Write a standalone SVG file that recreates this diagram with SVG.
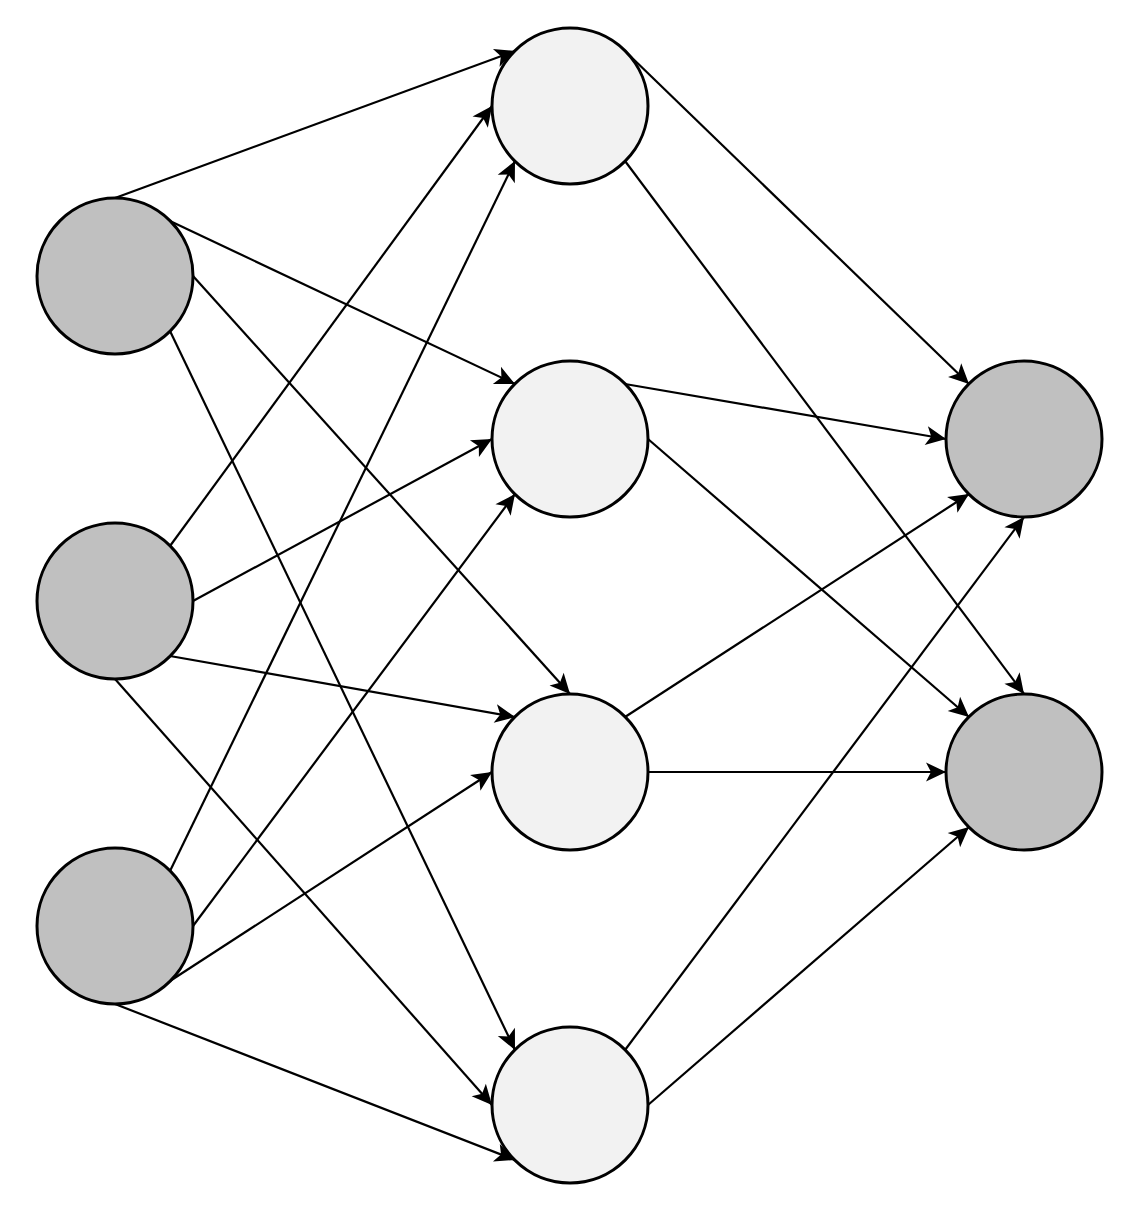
<svg xmlns="http://www.w3.org/2000/svg" width="1139" height="1214" viewBox="0 0 1139 1214">
<style>
.in{fill:#c0c0c0;stroke:#000;stroke-width:3}
.hid{fill:#f2f2f2;stroke:#000;stroke-width:3}
.out{fill:#c0c0c0;stroke:#000;stroke-width:3}
#connectors line{stroke:#000;stroke-width:2.2;fill:none;marker-end:url(#arrow)}
</style>
<defs>
<marker id="arrow" viewBox="-21 -10 22 20" markerWidth="22" markerHeight="20" refX="0" refY="0" orient="auto" markerUnits="userSpaceOnUse" overflow="visible">
<path d="M0,0 L-20,-9.5 L-15,0 L-20,9.5 Z" fill="#000"/>
</marker>
</defs>
<rect width="1139" height="1214" fill="#fff"/>
<g id="connectors">
<line x1="115" y1="198" x2="515" y2="51"/>
<line x1="170" y1="221" x2="515" y2="384"/>
<line x1="193" y1="276" x2="570" y2="694"/>
<line x1="170" y1="331" x2="515" y2="1050"/>
<line x1="170" y1="546" x2="492" y2="106"/>
<line x1="193" y1="601" x2="492" y2="439"/>
<line x1="170" y1="656" x2="515" y2="717"/>
<line x1="115" y1="679" x2="492" y2="1105"/>
<line x1="170" y1="871" x2="515" y2="161"/>
<line x1="193" y1="926" x2="515" y2="494"/>
<line x1="170" y1="981" x2="492" y2="772"/>
<line x1="115" y1="1004" x2="515" y2="1160"/>
<line x1="625" y1="51" x2="969" y2="384"/>
<line x1="625" y1="161" x2="1024" y2="694"/>
<line x1="625" y1="384" x2="946" y2="439"/>
<line x1="648" y1="439" x2="969" y2="717"/>
<line x1="625" y1="717" x2="969" y2="494"/>
<line x1="648" y1="772" x2="946" y2="772"/>
<line x1="625" y1="1050" x2="1024" y2="517"/>
<line x1="648" y1="1105" x2="969" y2="827"/>
</g>
<g id="input1"><circle class="in" cx="115" cy="276" r="78"/></g>
<g id="input2"><circle class="in" cx="115" cy="601" r="78"/></g>
<g id="input3"><circle class="in" cx="115" cy="926" r="78"/></g>
<g id="hidden1"><circle class="hid" cx="570" cy="106" r="78"/></g>
<g id="hidden2"><circle class="hid" cx="570" cy="439" r="78"/></g>
<g id="hidden3"><circle class="hid" cx="570" cy="772" r="78"/></g>
<g id="hidden4"><circle class="hid" cx="570" cy="1105" r="78"/></g>
<g id="output1"><circle class="out" cx="1024" cy="439" r="78"/></g>
<g id="output2"><circle class="out" cx="1024" cy="772" r="78"/></g>
</svg>
